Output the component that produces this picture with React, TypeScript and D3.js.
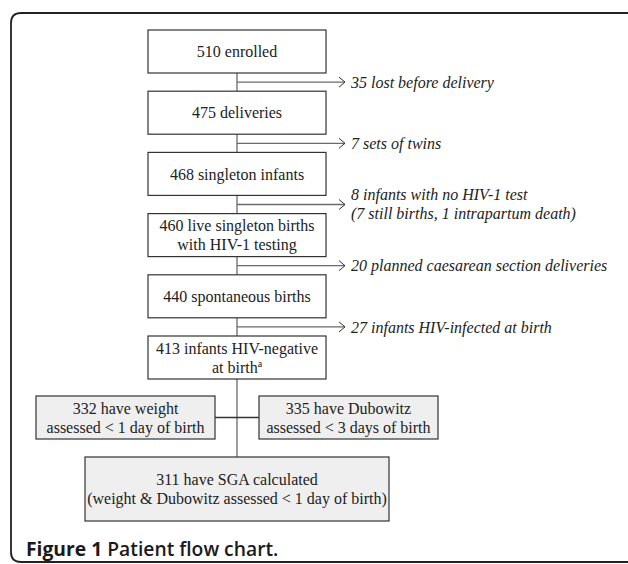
import React from "react";
import * as d3 from "d3";

// main column of the flow chart (top to bottom)
const mainSteps = [
  ["510 enrolled"],
  ["475 deliveries"],
  ["468 singleton infants"],
  ["460 live singleton births", "with HIV-1 testing"],
  ["440 spontaneous births"],
  ["413 infants HIV-negative", "at birth"],
];

// exclusions branching off between consecutive steps
const exclusions = [
  ["35 lost before delivery"],
  ["7 sets of twins"],
  ["8 infants with no HIV-1 test", "(7 still births, 1 intrapartum death)"],
  ["20 planned caesarean section deliveries"],
  ["27 infants HIV-infected at birth"],
];

// the two assessments side by side, then the final group
const assessments = [
  ["332 have weight", "assessed < 1 day of birth"],
  ["335 have Dubowitz", "assessed < 3 days of birth"],
];
const finalGroup = ["311 have SGA calculated", "(weight & Dubowitz assessed < 1 day of birth)"];

const caption = ["Figure 1", "Patient flow chart."];

const W = 628;
const H = 564;
const serif = "'Liberation Serif', 'Times New Roman', serif";
const lineCol = "#6a6a6a";
const boxCol = "#333";

export default function App() {
  const cx = 237;
  const boxW = 178;
  const boxH = 43;
  const lineH = 19;

  const rowY = d3
    .scalePoint<number>()
    .domain(d3.range(mainSteps.length))
    .range([30, 336]);

  const lastBottom = (rowY(mainSteps.length - 1) as number) + boxH;
  const sideTop = lastBottom + 17;
  const sideH = 43;
  const finalTop = sideTop + sideH + 18;
  const finalH = 64;

  const sideX = d3
    .scaleOrdinal<number, number>()
    .domain([0, 1])
    .range([36, 259]);
  const sideW = 179;
  const finalX = 85;
  const finalW = 304;

  const arrowEnd = 345;

  const textLines = (lines: string[], x: number, yMid: number, opts: any = {}) =>
    lines.map((t, i) => (
      <text
        key={i}
        x={x}
        y={yMid + (i - (lines.length - 1) / 2) * lineH}
        dy="0.35em"
        fontFamily={serif}
        fontSize={16}
        fill="#222"
        {...opts}
      >
        {t}
      </text>
    ));

  return (
    <svg width={W} height={H} style={{ position: "absolute", left: 0, top: 0 }}>
      {/* outer frame */}
      <path
        d={`M640,13 H21 Q11,13 11,23 V552 Q11,562 21,562 H640`}
        fill="none"
        stroke="#222"
        strokeWidth={1.8}
      />

      {/* connectors + exclusion arrows */}
      {exclusions.map((ex, i) => {
        const yTop = (rowY(i) as number) + boxH;
        const yBot = rowY(i + 1) as number;
        const ya = (yTop + yBot) / 2;
        return (
          <g key={"ex" + i}>
            <line x1={cx} x2={cx} y1={yTop} y2={yBot} stroke={lineCol} strokeWidth={1.3} />
            <line x1={cx} x2={arrowEnd} y1={ya} y2={ya} stroke={lineCol} strokeWidth={1.3} />
            <path
              d={`M${arrowEnd - 6},${ya - 5} L${arrowEnd},${ya} L${arrowEnd - 6},${ya + 5}`}
              fill="none"
              stroke="#333"
              strokeWidth={1}
            />
            {textLines(ex, arrowEnd + 6, ex.length > 1 ? ya - 1 : ya, { fontStyle: "italic", textAnchor: "start" })}
          </g>
        );
      })}

      {/* vertical line down to the final group and horizontal link between assessments */}
      <line x1={cx} x2={cx} y1={lastBottom} y2={finalTop} stroke={lineCol} strokeWidth={1.3} />
      <line
        x1={(sideX(0) as number) + sideW}
        x2={sideX(1) as number}
        y1={sideTop + sideH / 2}
        y2={sideTop + sideH / 2}
        stroke="#333"
        strokeWidth={1.3}
      />

      {/* main boxes */}
      {mainSteps.map((s, i) => {
        const y = rowY(i) as number;
        const last = i === mainSteps.length - 1;
        return (
          <g key={"m" + i}>
            <rect x={cx - boxW / 2} y={y} width={boxW} height={boxH} fill="#fff" stroke={boxCol} strokeWidth={1.2} />
            {last ? (
              <>
                {textLines([s[0]], cx, y + boxH / 2 - lineH / 2, { textAnchor: "middle" })}
                <text
                  x={cx}
                  y={y + boxH / 2 + lineH / 2}
                  dy="0.35em"
                  fontFamily={serif}
                  fontSize={16}
                  fill="#222"
                  textAnchor="middle"
                >
                  {s[1]}
                  <tspan fontSize={10} dy="-6">a</tspan>
                </text>
              </>
            ) : (
              textLines(s, cx, y + boxH / 2, { textAnchor: "middle" })
            )}
          </g>
        );
      })}

      {/* assessment boxes */}
      {assessments.map((a, i) => (
        <g key={"a" + i}>
          <rect x={sideX(i)} y={sideTop} width={sideW} height={sideH} fill="#efefef" stroke={boxCol} strokeWidth={1.2} />
          {textLines(a, (sideX(i) as number) + sideW / 2, sideTop + sideH / 2, { textAnchor: "middle" })}
        </g>
      ))}

      {/* final group */}
      <rect x={finalX} y={finalTop} width={finalW} height={finalH} fill="#efefef" stroke={boxCol} strokeWidth={1.2} />
      {textLines(finalGroup, finalX + finalW / 2, finalTop + finalH / 2, { textAnchor: "middle" })}

      {/* caption */}
      <text x={26} y={556} fontFamily="'Open Sans', 'Noto Sans', sans-serif" fontSize={19.3} fill="#1a1a1a">
        <tspan fontWeight={700}>{caption[0]}</tspan>
        <tspan fontWeight={600}> {caption[1]}</tspan>
      </text>
    </svg>
  );
}
